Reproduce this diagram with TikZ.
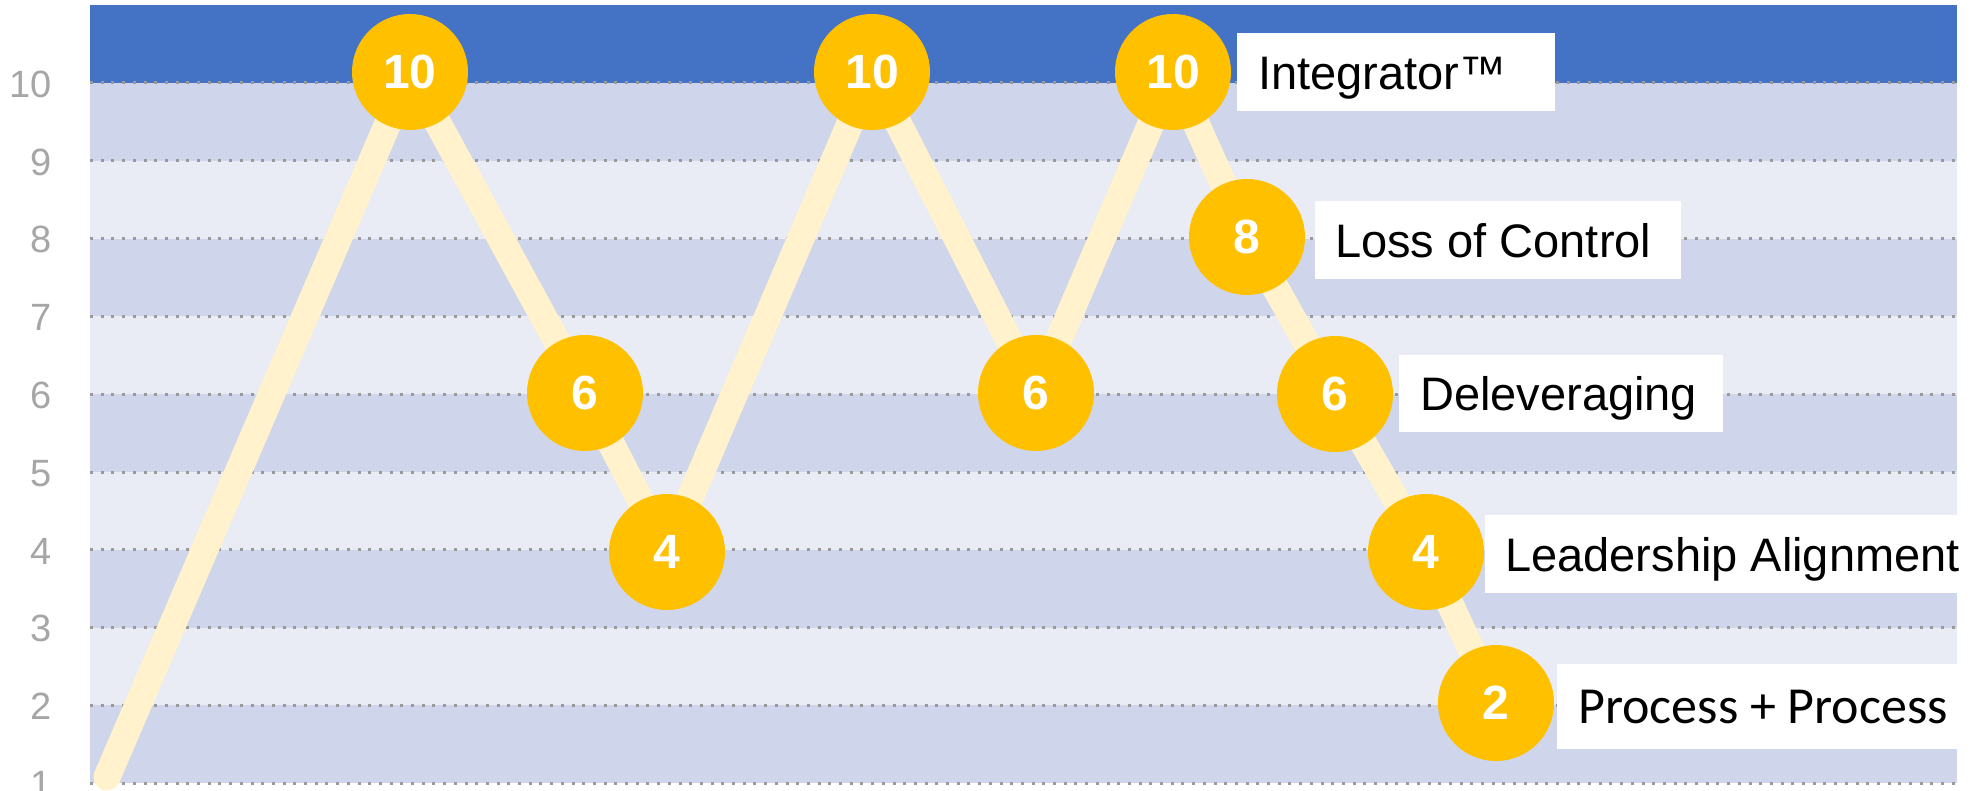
\documentclass[tikz,border=0pt]{standalone}
\usepackage{fontspec}
\setmainfont{Liberation Sans}
\newfontfamily\calfont{Carlito}
\definecolor{hdrblue}{HTML}{4472C4}
\definecolor{banddark}{HTML}{CFD5EA}
\definecolor{bandlight}{HTML}{E9EBF5}
\definecolor{gridgray}{HTML}{9A9A9A}
\definecolor{axgray}{HTML}{A6A6A6}
\definecolor{gold}{HTML}{FFC000}
\definecolor{cream}{HTML}{FFF2CC}
\pgfdeclarelayer{bandlayer}
\pgfdeclarelayer{trailayer}
\pgfsetlayers{bandlayer,trailayer,main}
\begin{document}
\begin{tikzpicture}[x=1pt,y=-1pt,
  dotnode/.style={circle, fill=gold, minimum size=116pt, inner sep=0pt, text=white,
    font=\fontsize{48}{48}\selectfont\bfseries},
  trail/.style={draw=cream, line width=27pt, line cap=round, line join=round},
  gridline/.style={draw=gridgray, line width=3pt, dash pattern=on 3pt off 7.7pt},
  ylab/.style={anchor=east, inner sep=0pt, text=axgray, font=\fontsize{38}{38}\selectfont},
  labbox/.style={fill=white, anchor=north west, inner sep=0pt},
  labtext/.style={anchor=west, inner sep=0pt, text height=34pt, text depth=0pt,
    font=\fontsize{47}{47}\selectfont},
]
\useasboundingbox (0,0) rectangle (1979,791);
\begin{pgfonlayer}{bandlayer}
\fill[hdrblue] (90,5) rectangle (1957,83);
\foreach \k in {0,...,8}{
  \ifodd\k
    \fill[bandlight] (90,{83+77.8*\k}) rectangle (1957,{83+77.8*(\k+1)});
  \else
    \fill[banddark] (90,{83+77.8*\k}) rectangle (1957,{83+77.8*(\k+1)});
  \fi
}
\foreach \v in {1,...,10}{
  \draw[gridline] (90,{783.2-77.8*(\v-1)}) -- (1957,{783.2-77.8*(\v-1)});
}
\end{pgfonlayer}
\foreach \v in {1,...,10}{
  \node[ylab] (y\v) at (52,{784.5-77.8*(\v-1)}) {\v};
}
% points
\coordinate (p0) at (107,777);
\node[dotnode] (c1) at (410,72) {10};
\node[dotnode] (c2) at (585,393) {6};
\node[dotnode] (c3) at (667,552) {4};
\node[dotnode] (c4) at (872,72) {10};
\node[dotnode] (c5) at (1036,393) {6};
\node[dotnode] (c6) at (1173,72) {10};
\node[dotnode] (c7) at (1247,237) {8};
\node[dotnode] (c8) at (1335,394) {6};
\node[dotnode] (c9) at (1426,552) {4};
\node[dotnode] (c10) at (1496,703) {2};
\begin{pgfonlayer}{trailayer}
\path[trail] (p0) -- (c1.center) -- (c2.center) -- (c3.center) -- (c4.center) -- (c5.center)
  -- (c6.center) -- (c7.center) -- (c8.center) -- (c9.center) -- (c10.center);
\end{pgfonlayer}
% label boxes
\node[labbox, minimum width=318pt, minimum height=78pt] (b1) at (1237,33) {};
\node[labtext] (t1) at ([xshift=21pt]b1.west) {Integrator™};
\node[labbox, minimum width=366pt, minimum height=78pt] (b2) at (1315,201) {};
\node[labtext] (t2) at ([xshift=20pt]b2.west) {Loss of Control};
\node[labbox, minimum width=324pt, minimum height=77pt] (b3) at (1399,355) {};
\node[labtext] (t3) at ([xshift=21pt]b3.west) {Deleveraging};
\node[labbox, minimum width=494pt, minimum height=78pt] (b4) at (1485,515) {};
\node[labtext] (t4) at ([xshift=20pt]b4.west) {Leadership Alignment};
\node[labbox, minimum width=400pt, minimum height=85pt] (b5) at (1557,664) {};
\node[labtext, text height=33.5pt, font=\calfont\fontsize{52}{52}\selectfont] (t5) at ([xshift=21pt]b5.west) {Process + Process};
\end{tikzpicture}
\end{document}
